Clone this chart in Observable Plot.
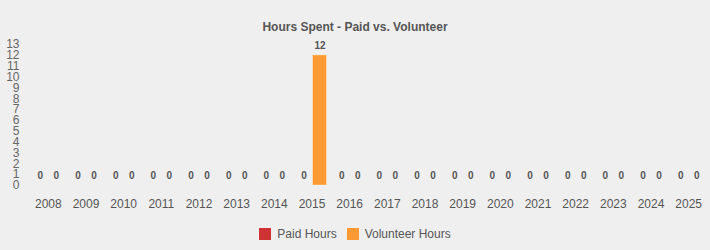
<!DOCTYPE html>
<html>
<head>
<meta charset="utf-8">
<script src="https://cdn.jsdelivr.net/npm/d3@7"></script>
<script src="https://cdn.jsdelivr.net/npm/@observablehq/plot@0.6"></script>
<style>
  html, body { margin: 0; padding: 0; background: #efefef; }
  body { width: 710px; height: 250px; overflow: hidden; font-family: "Liberation Sans", Arial, sans-serif; }
  #title { height: 38px; box-sizing: border-box; padding-top: 20px; text-align: center; font-size: 12px; font-weight: bold; color: #555; line-height: 14px; }
  #legend { display: flex; justify-content: center; align-items: center; gap: 10px; font-size: 12px; color: #555; margin-top: 12px; }
  .item { display: flex; align-items: center; gap: 6px; }
  .sw { width: 12px; height: 12px; display: inline-block; }
</style>
</head>
<body>
<div id="title">Hours Spent - Paid vs. Volunteer</div>
<div id="chart"></div>
<div id="legend"></div>
<script>
const years = ["2008","2009","2010","2011","2012","2013","2014","2015","2016","2017","2018","2019","2020","2021","2022","2023","2024","2025"];
const seriesNames = ["Paid Hours", "Volunteer Hours"];
const paidHours = [0,0,0,0,0,0,0,0,0,0,0,0,0,0,0,0,0,0];
const volunteerHours = [0,0,0,0,0,0,0,12,0,0,0,0,0,0,0,0,0,0];
const colors = ["#cf3232", "#ff9933"];
const yTicks = [0,1,2,3,4,5,6,7,8,9,10,11,12,13];

const data = [];
years.forEach((y, i) => {
  data.push({year: y, series: seriesNames[0], value: paidHours[i]});
  data.push({year: y, series: seriesNames[1], value: volunteerHours[i]});
});

const chart = Plot.plot({
  width: 710,
  height: 177,
  marginTop: 6,
  marginBottom: 30,
  marginLeft: 29,
  marginRight: 3,
  style: {background: "#efefef", fontFamily: "Liberation Sans, Arial, sans-serif"},
  fx: {domain: years, paddingInner: 0, paddingOuter: 0, round: false, label: null, axis: null},
  x: {domain: seriesNames, paddingInner: 0.125, paddingOuter: 0.24, round: false, axis: null},
  y: {domain: [0, 13], ticks: yTicks, label: null, axis: null},
  color: {domain: seriesNames, range: colors},
  marks: [
    Plot.axisY({ticks: yTicks, tickSize: 0, tickPadding: 10, label: null, fontSize: 12, color: "#666", tickFormat: d => String(d)}),
    Plot.axisFx({anchor: "bottom", tickSize: 0, tickPadding: 14, label: null, fontSize: 12, color: "#555"}),
    Plot.barY(data.filter(d => d.value > 0), {fx: "year", x: "series", y: "value", fill: "series", stroke: "#fff", strokeOpacity: 0.35, strokeWidth: 1}),
    Plot.text(data, {fx: "year", x: "series", y: "value", text: d => String(d.value), dy: -10, fontSize: 10, fontWeight: "bold", fill: "#555"})
  ]
});
document.getElementById("chart").appendChild(chart);

const legend = document.getElementById("legend");
seriesNames.forEach((name, i) => {
  const item = document.createElement("span");
  item.className = "item";
  const sw = document.createElement("span");
  sw.className = "sw";
  sw.style.background = colors[i];
  item.appendChild(sw);
  item.appendChild(document.createTextNode(name));
  legend.appendChild(item);
});
</script>
</body>
</html>
